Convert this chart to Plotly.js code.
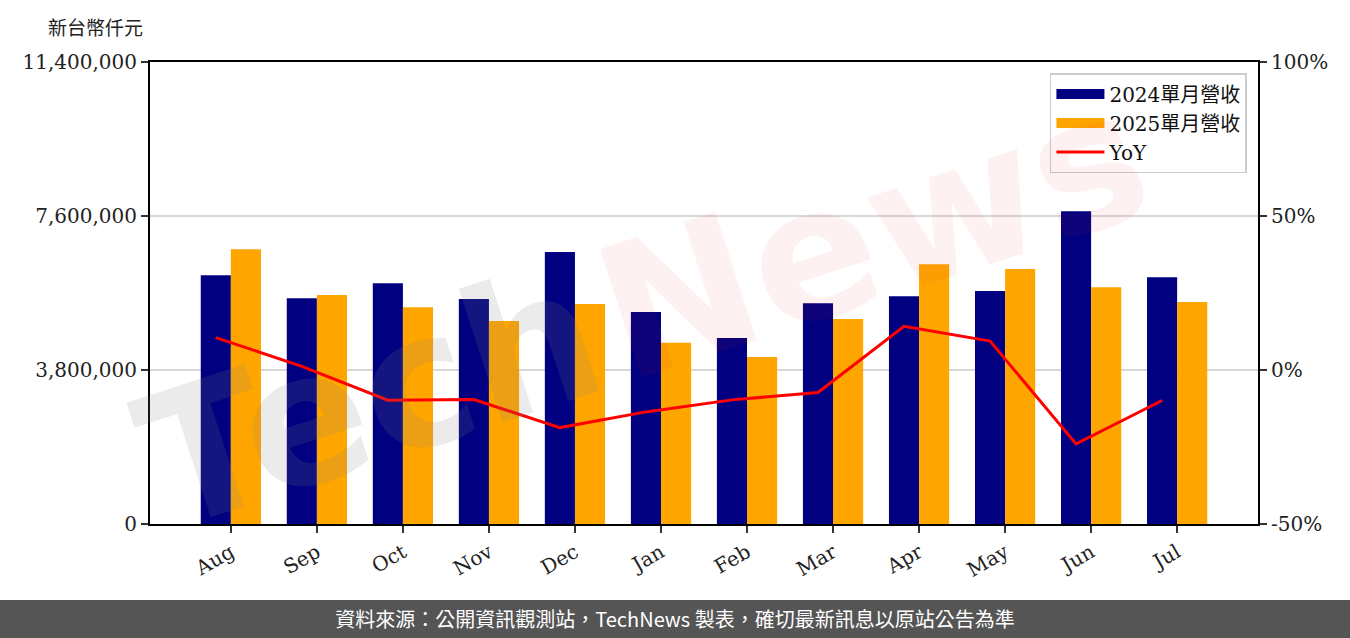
<!DOCTYPE html>
<html>
<head>
<meta charset="utf-8">
<script src="https://cdn.plot.ly/plotly-3.0.1.min.js"></script>
<style>
  html, body { margin: 0; padding: 0; background: #fff; }
  #wrap { position: relative; width: 1350px; height: 638px; overflow: hidden; }
  #chart { position: absolute; left: 0; top: 0; width: 1350px; height: 638px; }
  #footer { position: absolute; left: 0; bottom: 0; width: 1350px; height: 38px; background: #555555;
    color: #ffffff; font-family: "Noto Sans CJK TC", "Noto Sans", sans-serif; font-size: 20px;
    line-height: 38px; text-align: center; }
</style>
</head>
<body>
<div id="wrap">
  <div id="chart"></div>
  <div id="footer">資料來源：公開資訊觀測站，TechNews 製表，確切最新訊息以原站公告為準</div>
</div>
<script>
// ---- data ----
const months = ["Aug", "Sep", "Oct", "Nov", "Dec", "Jan", "Feb", "Mar", "Apr", "May", "Jun", "Jul"];
const rev2024 = [6140000, 5570000, 5940000, 5550000, 6710000, 5230000, 4590000, 5450000, 5620000, 5750000, 7720000, 6090000];
const rev2025 = [6780000, 5650000, 5350000, 5010000, 5430000, 4470000, 4120000, 5060000, 6410000, 6290000, 5840000, 5480000];
const yoy = [10.5, 1.2, -9.8, -9.6, -18.7, -13.6, -9.7, -7.3, 14.2, 9.4, -24.0, -9.9];
const leftTicks = [0, 3800000, 7600000, 11400000];
const rightTicks = [-50, 0, 50, 100];
const rightTickLabels = ["-50%", "0%", "50%", "100%"];
const seriesNames = ["2024單月營收", "2025單月營收", "YoY"];

// ---- styling ----
const serif = "DejaVu Serif, Noto Sans CJK TC, serif";
const barW = 0.35;
const xRange = [-0.94, 11.94];
const navy = "#000080", orange = "#FFA500", red = "#FF0000";

const traces = [
  { type: "bar", name: seriesNames[0], x: months, y: rev2024, width: barW, offset: -barW,
    marker: { color: navy }, xaxis: "x", yaxis: "y", showlegend: false },
  { type: "bar", name: seriesNames[1], x: months, y: rev2025, width: barW, offset: 0,
    marker: { color: orange }, xaxis: "x", yaxis: "y", showlegend: false },
  { type: "scatter", mode: "lines", name: seriesNames[2], x: months, y: yoy,
    line: { color: red, width: 3 }, xaxis: "x2", yaxis: "y2", showlegend: false },
  // legend entries (wide swatches like the reference)
  { type: "scatter", mode: "lines", name: seriesNames[0], x: [null], y: [null],
    line: { color: navy, width: 16 }, xaxis: "x", yaxis: "y" },
  { type: "scatter", mode: "lines", name: seriesNames[1], x: [null], y: [null],
    line: { color: orange, width: 16 }, xaxis: "x", yaxis: "y" },
  { type: "scatter", mode: "lines", name: seriesNames[2], x: [null], y: [null],
    line: { color: red, width: 3 }, xaxis: "x", yaxis: "y" }
];

const wmFont = "DejaVu Sans, sans-serif";
const layout = {
  width: 1350, height: 638,
  margin: { l: 150, r: 92, t: 62, b: 114, pad: 0 },
  paper_bgcolor: "#ffffff", plot_bgcolor: "#ffffff",
  barmode: "overlay",
  showlegend: true,
  font: { family: serif, color: "#222" },
  xaxis: {
    type: "category", categoryarray: months, categoryorder: "array", range: xRange,
    showgrid: false, zeroline: false,
    showline: true, linecolor: "#000", linewidth: 2, mirror: true,
    ticks: "outside", ticklen: 7, tickwidth: 2, tickcolor: "#333",
    tickangle: -30, tickfont: { family: serif, size: 20, color: "#222" }
  },
  xaxis2: {
    type: "category", categoryarray: months, categoryorder: "array", overlaying: "x",
    range: [xRange[0] + barW / 2, xRange[1] + barW / 2],
    visible: false, showgrid: false, zeroline: false
  },
  yaxis: {
    range: [0, 11400000], tickvals: leftTicks, tickformat: ",",
    showgrid: true, gridcolor: "#d8d8d8", gridwidth: 2, zeroline: false,
    showline: true, linecolor: "#000", linewidth: 2,
    ticks: "outside", ticklen: 7, tickwidth: 2, tickcolor: "#333",
    tickfont: { family: serif, size: 20, color: "#222" }
  },
  yaxis2: {
    overlaying: "y", side: "right", range: [-50, 100], tickmode: "array",
    tickvals: rightTicks, ticktext: rightTickLabels,
    showgrid: false, zeroline: false, showline: true, linecolor: "#000", linewidth: 2,
    ticks: "outside", ticklen: 7, tickwidth: 2, tickcolor: "#333",
    tickfont: { family: serif, size: 20, color: "#222" }
  },
  legend: {
    x: 0.99, y: 0.976, xanchor: "right", yanchor: "top",
    bgcolor: "rgba(255,255,255,0.85)", bordercolor: "#cccccc", borderwidth: 1.5,
    font: { family: serif, size: 20, color: "#111" },
    itemwidth: 48, tracegroupgap: 4
  },
  annotations: [
    { xref: "paper", yref: "paper", x: -0.049, y: 1.076, xanchor: "center", yanchor: "middle",
      showarrow: false, text: "新台幣仟元",
      font: { family: "Noto Sans CJK TC, sans-serif", size: 19, color: "#222" } },
    { xref: "paper", yref: "paper", x: 0.199, y: 0.273, xanchor: "center", yanchor: "middle",
      showarrow: false, textangle: -18, text: "<b>Tech</b>",
      font: { family: wmFont, size: 185, color: "rgba(128,128,128,0.16)" } },
    { xref: "paper", yref: "paper", x: 0.652, y: 0.625, xanchor: "center", yanchor: "middle",
      showarrow: false, textangle: -18, text: "<b>News</b>",
      font: { family: wmFont, size: 185, color: "rgba(220,40,50,0.065)" } }
  ]
};

Plotly.newPlot("chart", traces, layout, { displayModeBar: false, staticPlot: true });
</script>
</body>
</html>
